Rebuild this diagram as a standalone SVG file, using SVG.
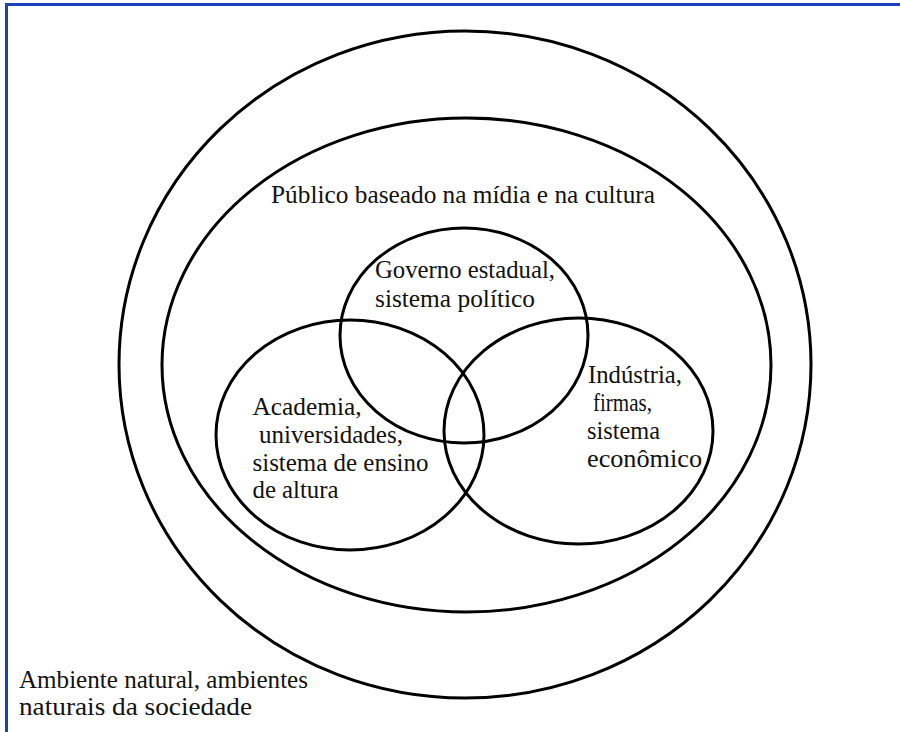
<svg xmlns="http://www.w3.org/2000/svg" width="900" height="732" viewBox="0 0 900 732">
  <style>
    .ring { fill: none; stroke: #000; stroke-width: 3; }
    .lbl { font-family: 'Liberation Serif', 'Times New Roman', Tinos, serif; font-size: 25px; fill: #111; }
  </style>
  <rect width="900" height="732" fill="#fff"/>
  <!-- frame: top and left edges only are visible -->
  <rect x="6.5" y="4.5" width="1000" height="1000" fill="none" stroke="#1a3fbf" stroke-width="3"/>

  <g id="ambiente">
    <ellipse class="ring" cx="465" cy="364.5" rx="346" ry="333.5"/>
    <text class="lbl" x="19" y="688" textLength="289" lengthAdjust="spacingAndGlyphs">Ambiente natural, ambientes</text>
    <text class="lbl" x="19" y="715" textLength="233" lengthAdjust="spacingAndGlyphs">naturais da sociedade</text>
  </g>

  <g id="publico">
    <ellipse class="ring" cx="466.5" cy="365" rx="304.5" ry="247"/>
    <text class="lbl" x="271" y="203" textLength="384" lengthAdjust="spacingAndGlyphs">Público baseado na mídia e na cultura</text>
  </g>

  <g id="governo">
    <ellipse class="ring" cx="464" cy="335.5" rx="124" ry="107.5"/>
    <text class="lbl" x="375" y="278" textLength="180" lengthAdjust="spacingAndGlyphs">Governo estadual,</text>
    <text class="lbl" x="375" y="307" textLength="160" lengthAdjust="spacingAndGlyphs">sistema político</text>
  </g>

  <g id="academia">
    <ellipse class="ring" cx="350" cy="435" rx="134" ry="115"/>
    <text class="lbl" x="252.5" y="415" textLength="109" lengthAdjust="spacingAndGlyphs">Academia,</text>
    <text class="lbl" x="259" y="443" textLength="144" lengthAdjust="spacingAndGlyphs">universidades,</text>
    <text class="lbl" x="252.5" y="471" textLength="176" lengthAdjust="spacingAndGlyphs">sistema de ensino</text>
    <text class="lbl" x="252.5" y="498" textLength="86" lengthAdjust="spacingAndGlyphs">de altura</text>
  </g>

  <g id="industria">
    <ellipse class="ring" cx="578.5" cy="431" rx="134.5" ry="113"/>
    <text class="lbl" x="588" y="383" textLength="94" lengthAdjust="spacingAndGlyphs">Indústria,</text>
    <text class="lbl" x="593" y="411" textLength="59" lengthAdjust="spacingAndGlyphs">firmas,</text>
    <text class="lbl" x="587" y="439" textLength="73" lengthAdjust="spacingAndGlyphs">sistema</text>
    <text class="lbl" x="587" y="467" textLength="115" lengthAdjust="spacingAndGlyphs">econômico</text>
  </g>

  <g id="connectors"/>
</svg>
